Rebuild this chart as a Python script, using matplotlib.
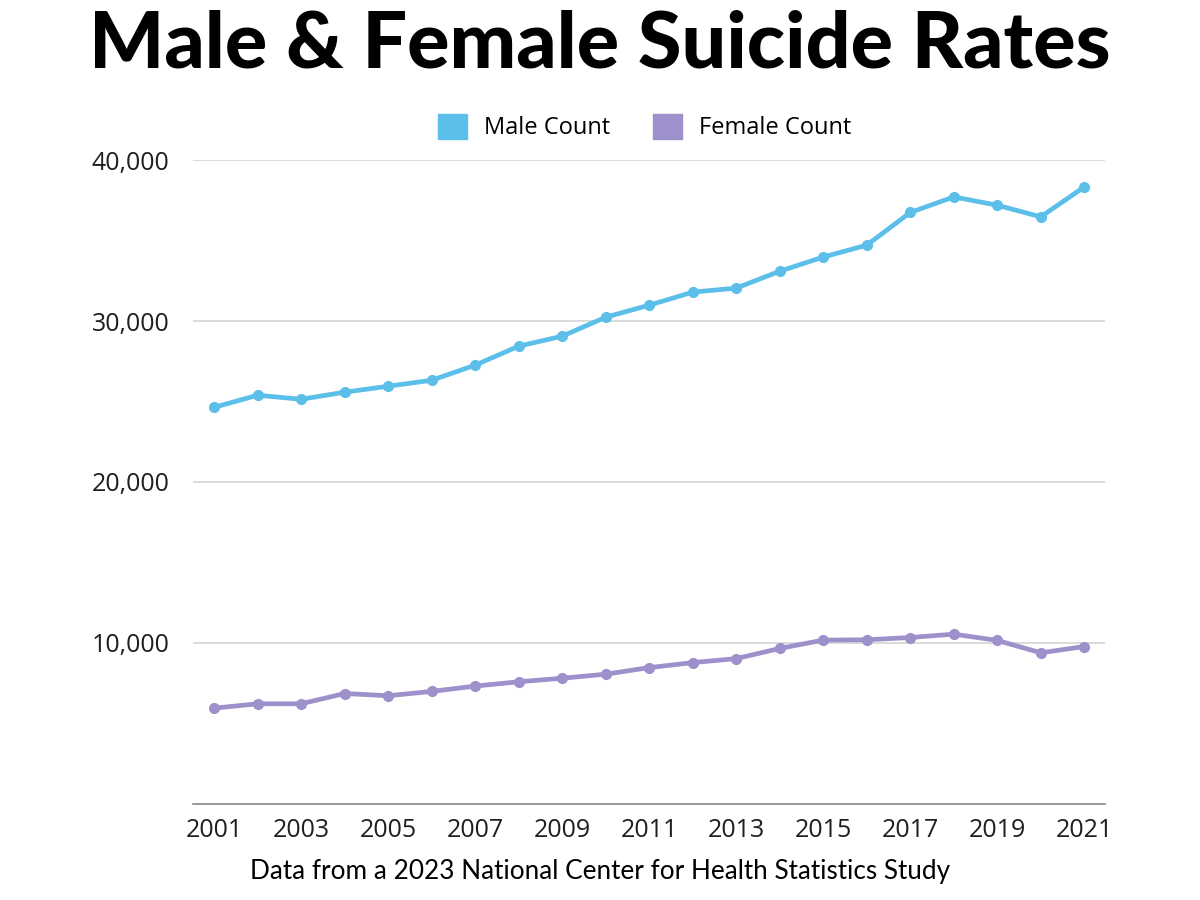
import matplotlib.pyplot as plt
from matplotlib.patches import Patch
from matplotlib.ticker import FuncFormatter

# data
years = list(range(2001, 2022))
male = [24640, 25390, 25140, 25580, 25950, 26320, 27260, 28440, 29060, 30240,
        30990, 31800, 32050, 33100, 33980, 34720, 36750, 37720, 37200, 36480, 38340]
female = [5940, 6210, 6210, 6850, 6710, 6980, 7310, 7580, 7800, 8050,
          8460, 8770, 9020, 9650, 10170, 10190, 10330, 10540, 10150, 9380, 9770]
xtick_years = list(range(2001, 2022, 2))
ytick_vals = [10000, 20000, 30000, 40000]

male_color = '#5bbfea'
female_color = '#9d90cb'

fig = plt.figure(figsize=(12, 9), dpi=100)
ax = fig.add_axes([0.161, 0.107, 0.76, 0.715])

ax.plot(years, male, color=male_color, lw=3.4, marker='o', ms=7, zorder=3)
ax.plot(years, female, color=female_color, lw=3.4, marker='o', ms=7, zorder=3)

ax.set_xlim(2000.52, 2021.48)
ax.set_ylim(0, 40000)
ax.set_xticks(xtick_years)
ax.set_yticks(ytick_vals)
ax.yaxis.set_major_formatter(FuncFormatter(lambda v, p: f'{int(v):,}'))
ax.tick_params(length=0, labelsize=18, colors='#1f1f1f')
ax.tick_params(axis='x', pad=10)
ax.tick_params(axis='y', pad=17)
for lab in ax.get_xticklabels() + ax.get_yticklabels():
    lab.set_family('Open Sans')

ax.grid(axis='y', color='#d4d4d4', lw=1.2)
ax.set_axisbelow(True)
for s in ['top', 'right', 'left']:
    ax.spines[s].set_visible(False)
ax.spines['bottom'].set_color('#888888')
ax.spines['bottom'].set_linewidth(1.2)

fig.text(0.5, 0.95, 'Male & Female Suicide Rates', ha='center', va='center',
         fontsize=57, fontweight='black', family='Lato')

handles = [Patch(color=male_color, label='Male Count'),
           Patch(color=female_color, label='Female Count')]
fig.legend(handles=handles, loc='center', bbox_to_anchor=(0.537, 0.859), ncol=2,
           frameon=False, prop={'family': 'Open Sans', 'size': 17},
           handlelength=1.25, handleheight=1.25, columnspacing=1.8, handletextpad=0.7)

fig.text(0.5, 0.032, 'Data from a 2023 National Center for Health Statistics Study',
         ha='center', va='center', fontsize=18.8, family='Lato')

fig.savefig('out.png', dpi=100, facecolor='white')
